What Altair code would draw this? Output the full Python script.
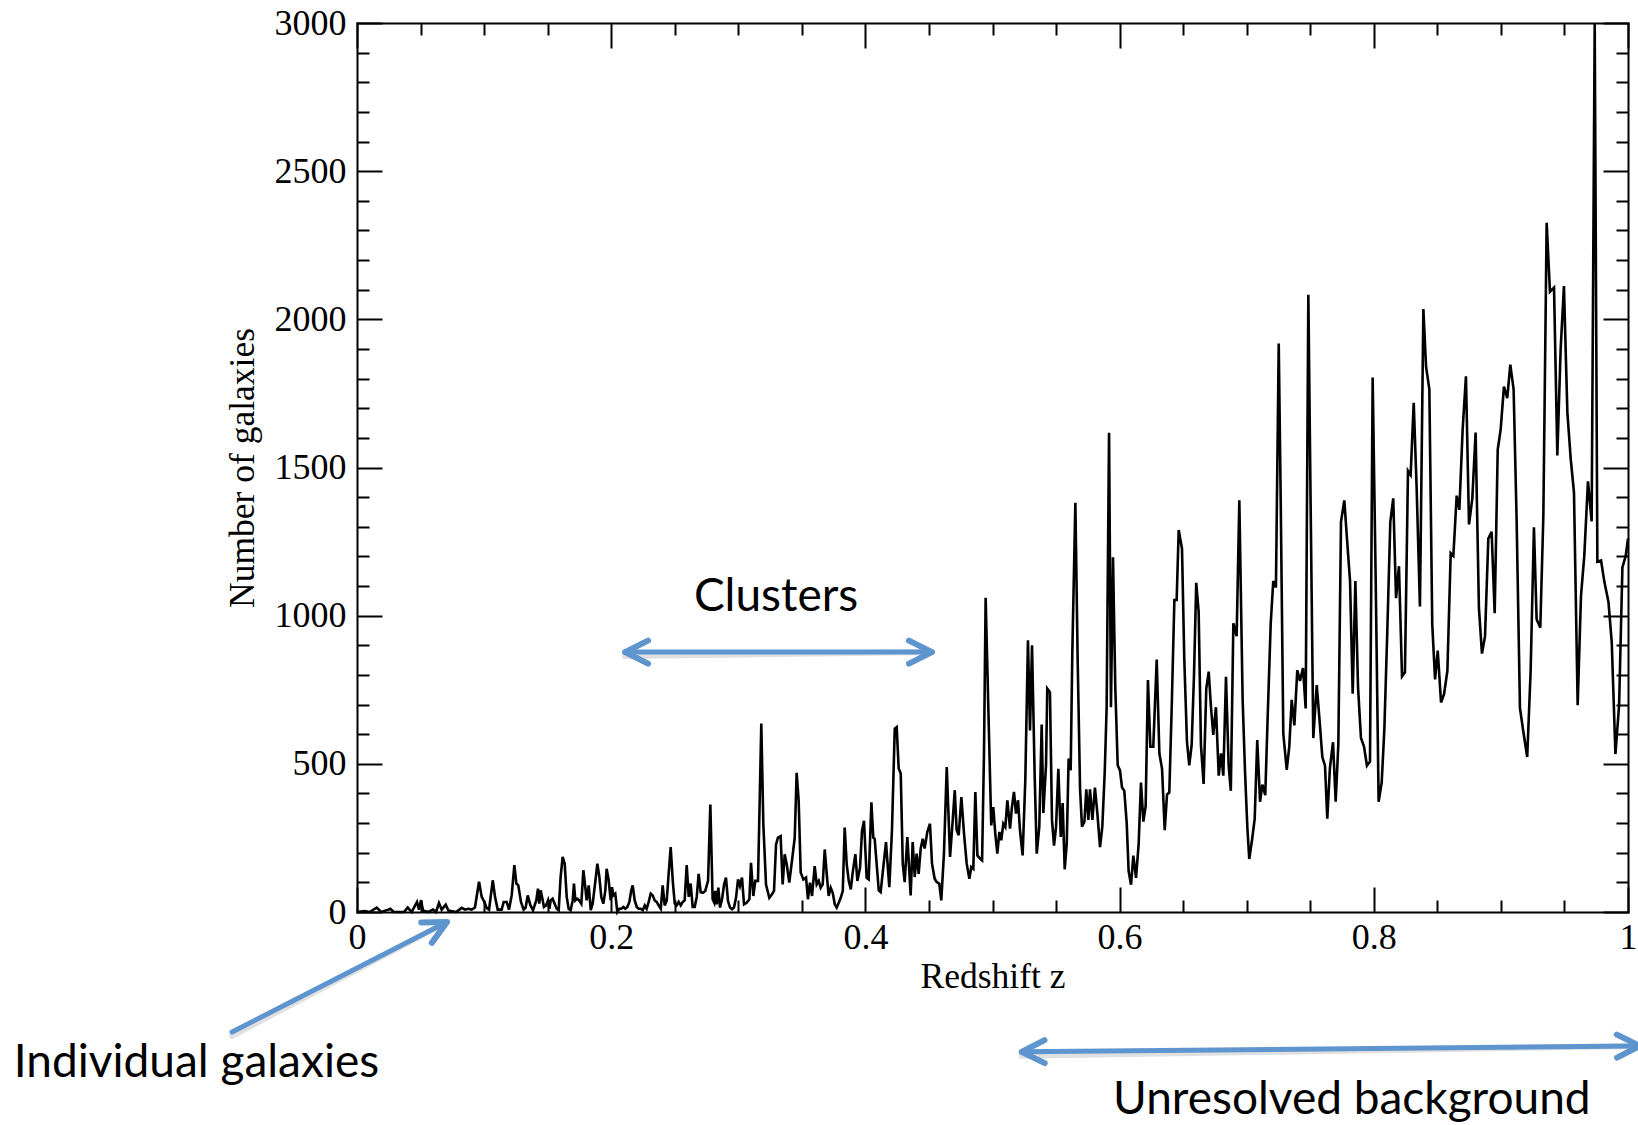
import altair as alt
import pandas as pd

# ---------------- data ----------------
redshift = [
    0.000, 0.006, 0.010, 0.0155, 0.019, 0.0247, 0.0262, 0.029, 0.037, 0.0399, 0.043, 0.0472, 0.0488, 0.0504,
    0.0519, 0.056, 0.0598, 0.0622, 0.0645, 0.0666, 0.0698, 0.0719, 0.078, 0.0824, 0.0850, 0.0876, 0.0902,
    0.0928, 0.0960, 0.0981, 0.1002, 0.1020, 0.1039, 0.1068, 0.1086, 0.1107, 0.1138, 0.1154, 0.1178, 0.1196,
    0.1217, 0.1238, 0.1254, 0.1269, 0.1290, 0.1311, 0.1327, 0.1343, 0.1364, 0.1385, 0.1411, 0.1424, 0.1434,
    0.1445, 0.1456, 0.1471, 0.1487, 0.1503, 0.1513, 0.1524, 0.1539, 0.1555, 0.1571, 0.1587, 0.1602, 0.1618,
    0.1634, 0.1650, 0.1665, 0.1681, 0.1697, 0.1707, 0.1718, 0.1733, 0.1749, 0.1765, 0.1781, 0.1796, 0.1807,
    0.1823, 0.1839, 0.1854, 0.1870, 0.1891, 0.1907, 0.1922, 0.1938, 0.1954, 0.1964, 0.1980, 0.1996, 0.2006,
    0.2017, 0.2032, 0.2048, 0.2064, 0.2080, 0.2096, 0.2111, 0.2127, 0.2143, 0.2158, 0.2169, 0.2185, 0.2201,
    0.2216, 0.2232, 0.2248, 0.2264, 0.2279, 0.2295, 0.2311, 0.2327, 0.2342, 0.2358, 0.2374, 0.2390, 0.2405,
    0.2421, 0.2437, 0.2452, 0.2468, 0.2484, 0.2500, 0.2515, 0.2531, 0.2547, 0.2563, 0.2578, 0.2594, 0.2610,
    0.2625, 0.2641, 0.2657, 0.2673, 0.2688, 0.2704, 0.2720, 0.2740, 0.2762, 0.2770, 0.2780, 0.2798, 0.2811,
    0.2819, 0.2830, 0.2843, 0.2856, 0.2872, 0.2888, 0.2903, 0.2919, 0.2935, 0.2951, 0.2966, 0.2982, 0.2998,
    0.3013, 0.3029, 0.3045, 0.3066, 0.3087, 0.3100, 0.3118, 0.3134, 0.3155, 0.3181, 0.3197, 0.3218, 0.3244,
    0.3265, 0.3281, 0.3297, 0.3312, 0.3333, 0.3349, 0.3365, 0.3381, 0.3401, 0.3422, 0.3444, 0.3459, 0.3475,
    0.3491, 0.3512, 0.3533, 0.3548, 0.3564, 0.3580, 0.3601, 0.3617, 0.3633, 0.3648, 0.3664, 0.3680, 0.3696,
    0.3711, 0.3727, 0.3743, 0.3759, 0.3774, 0.3790, 0.3806, 0.3822, 0.3837, 0.3853, 0.3869, 0.3885, 0.3900,
    0.3921, 0.3937, 0.3958, 0.3973, 0.3989, 0.4010, 0.4026, 0.4047, 0.4062, 0.4073, 0.4094, 0.4105, 0.4120,
    0.4141, 0.4162, 0.4188, 0.4209, 0.4231, 0.4246, 0.4262, 0.4278, 0.4294, 0.4309, 0.4330, 0.4356, 0.4372,
    0.4388, 0.4403, 0.4419, 0.4435, 0.4451, 0.4466, 0.4487, 0.4508, 0.4524, 0.4545, 0.4561, 0.4581, 0.4597,
    0.4618, 0.4640, 0.4666, 0.4687, 0.4703, 0.4718, 0.4734, 0.4755, 0.4776, 0.4797, 0.4818, 0.4833, 0.4849,
    0.4865, 0.4881, 0.4902, 0.4918, 0.4933, 0.4946, 0.4967, 0.4990, 0.5006, 0.5022, 0.5038, 0.5054, 0.5069,
    0.5085, 0.5101, 0.5117, 0.5138, 0.5153, 0.5169, 0.5185, 0.5201, 0.5216, 0.5237, 0.5258, 0.5279, 0.5295,
    0.5311, 0.5332, 0.5348, 0.5368, 0.5387, 0.5400, 0.5421, 0.5431, 0.5452, 0.5468, 0.5484, 0.5500, 0.5518,
    0.5537, 0.5552, 0.5568, 0.5584, 0.5599, 0.5615, 0.5628, 0.5652, 0.5670, 0.5689, 0.5704, 0.5723, 0.5738,
    0.5754, 0.5767, 0.5786, 0.5806, 0.5825, 0.5846, 0.5864, 0.5883, 0.5898, 0.5917, 0.5932, 0.5948, 0.5966,
    0.5985, 0.6003, 0.6019, 0.6037, 0.6056, 0.6071, 0.6090, 0.6108, 0.6129, 0.6150, 0.6168, 0.6187, 0.6205,
    0.6223, 0.6242, 0.6265, 0.6292, 0.6313, 0.6334, 0.6355, 0.6373, 0.6391, 0.6410, 0.6431, 0.6449, 0.6465,
    0.6491, 0.6509, 0.6530, 0.6548, 0.6567, 0.6585, 0.6603, 0.6622, 0.6640, 0.6661, 0.6682, 0.6701, 0.6719,
    0.6737, 0.6758, 0.6780, 0.6798, 0.6816, 0.6837, 0.6858, 0.6875, 0.6895, 0.6921, 0.6942, 0.6968, 0.6987,
    0.7005, 0.7020, 0.7042, 0.7063, 0.7083, 0.7105, 0.7123, 0.7146, 0.7165, 0.7189, 0.7209, 0.7230, 0.7252,
    0.7268, 0.7288, 0.7315, 0.7335, 0.7354, 0.7375, 0.7398, 0.7419, 0.7443, 0.7464, 0.7485, 0.7503, 0.7524,
    0.7551, 0.7571, 0.7595, 0.7616, 0.7634, 0.7655, 0.7679, 0.7700, 0.7721, 0.7742, 0.7768, 0.7789, 0.7813,
    0.7834, 0.7855, 0.7876, 0.7899, 0.7923, 0.7946, 0.7970, 0.7991, 0.8015, 0.8038, 0.8062, 0.8083, 0.8106,
    0.8130, 0.8153, 0.8175, 0.8198, 0.8222, 0.8245, 0.8269, 0.8290, 0.8314, 0.8337, 0.8363, 0.8390, 0.8411,
    0.8437, 0.8460, 0.8482, 0.8503, 0.8529, 0.8553, 0.8579, 0.8605, 0.8626, 0.8652, 0.8673, 0.8699, 0.8725,
    0.8749, 0.8775, 0.8801, 0.8827, 0.8851, 0.8875, 0.8901, 0.8927, 0.8951, 0.8975, 0.8998, 0.9024, 0.9050,
    0.9074, 0.9100, 0.9124, 0.9150, 0.9176, 0.9207, 0.9234, 0.9260, 0.9281, 0.9310, 0.9334, 0.9360, 0.9386,
    0.9418, 0.9444, 0.9470, 0.9496, 0.9523, 0.9549, 0.9575, 0.9604, 0.9630, 0.9656, 0.9685, 0.9714, 0.9738,
    0.9759, 0.9788, 0.9814, 0.9846, 0.9872, 0.9901, 0.9930, 0.9956, 0.9982, 1.0000,
]
galaxies = [
    0, 3, 0, 15, 0, 8, 11, 0, 0, 15, 0, 34, 8, 40,
    5, 0, 8, 0, 30, 8, 25, 5, 0, 14, 8, 11, 8,
    15, 102, 51, 34, 14, 8, 107, 51, 8, 8, 34, 34, 8,
    56, 158, 96, 90, 34, 8, 15, 56, 23, 6, 40, 79, 28,
    73, 51, 17, 22, 39, 11, 39, 45, 28, 11, 6, 118, 186,
    163, 51, 11, 6, 39, 96, 39, 45, 39, 28, 141, 84, 39,
    90, 6, 28, 84, 163, 118, 51, 28, 73, 146, 107, 39, 84,
    56, 62, 0, 11, 11, 17, 11, 17, 34, 73, 90, 39, 17,
    11, 11, 6, 22, 11, 34, 62, 56, 39, 34, 22, 11, 90,
    22, 39, 129, 219, 107, 28, 22, 34, 22, 34, 39, 158, 51,
    96, 17, 17, 51, 129, 67, 65, 71, 105, 220, 363, 43, 31,
    71, 26, 82, 15, 43, 93, 116, 37, 15, 9, 15, 48, 110,
    88, 116, 26, 31, 43, 166, 54, 105, 105, 636, 296, 93, 48,
    60, 71, 228, 251, 256, 93, 195, 161, 99, 172, 251, 470, 375,
    133, 110, 116, 43, 99, 54, 155, 93, 105, 82, 93, 211, 127,
    54, 82, 65, 26, 15, 31, 48, 71, 285, 161, 105, 76, 133,
    195, 105, 150, 273, 308, 115, 110, 370, 251, 247, 133, 73, 67,
    152, 236, 84, 276, 619, 624, 484, 467, 163, 101, 253, 56, 236,
    118, 197, 129, 214, 247, 214, 270, 298, 163, 112, 101, 96, 39,
    197, 489, 186, 309, 411, 276, 259, 388, 264, 163, 112, 152, 146,
    405, 191, 180, 174, 534, 1060, 692, 292, 354, 264, 197, 270, 242,
    298, 287, 377, 281, 354, 405, 332, 377, 276, 191, 444, 917, 613,
    900, 456, 197, 287, 633, 334, 495, 754, 742, 311, 224, 288, 483,
    253, 368, 144, 230, 518, 478, 875, 1381, 852, 414, 288, 305, 414,
    311, 414, 311, 420, 334, 219, 288, 472, 691, 1617, 691, 1197, 760,
    495, 478, 420, 409, 299, 138, 92, 190, 115, 230, 437, 305, 357,
    783, 558, 558, 852, 535, 483, 276, 397, 403, 691, 1053, 1053, 1289,
    1226, 852, 575, 495, 564, 794, 1111, 1013, 564, 432, 754, 811, 691,
    598, 691, 460, 535, 460, 794, 495, 409, 974, 931, 1389, 716, 472,
    286, 179, 243, 315, 580, 372, 430, 394, 659, 974, 1117, 1095, 1918,
    1374, 601, 480, 558, 716, 630, 816, 780, 823, 687, 2083, 1374, 587,
    766, 659, 523, 494, 315, 487, 573, 372, 566, 1317, 1389, 1260, 1117,
    737, 1117, 759, 587, 558, 494, 508, 1804, 1117, 372, 437, 616, 945,
    1317, 1396, 1059, 1167, 795, 809, 1489, 1475, 1718, 1432, 1031, 2035, 1841,
    1764, 969, 785, 882, 707, 736, 814, 1211, 1202, 1405, 1357, 1628, 1808,
    1308, 1395, 1618, 1027, 872, 930, 1260, 1283, 1008, 1560, 1628, 1773, 1734,
    1847, 1764, 1318, 688, 610, 523, 814, 1298, 988, 959, 1337, 2326, 2093,
    2107, 1541, 1899, 2112, 1686, 1531, 1415, 698, 1066, 1202, 1453, 1318, 3000,
    1182, 1186, 1114, 1047, 911, 533, 698, 1163, 1202, 1260,
]

x_major = [0, 0.2, 0.4, 0.6, 0.8, 1.0]
x_minor = [0.05, 0.1, 0.15, 0.25, 0.3, 0.35, 0.45, 0.5, 0.55, 0.65, 0.7, 0.75, 0.85, 0.9, 0.95]
y_major = [0, 500, 1000, 1500, 2000, 2500, 3000]
y_minor = [v for v in range(100, 3000, 100) if v % 500 != 0]

# annotations (data coordinates)
note_text = ["Clusters", "Individual galaxies", "Unresolved background"]
note_z = [0.3297, -0.1263, 0.7827]
note_n = [1064, -511, -634]

arrow_z1 = [0.2109, -0.0983, 0.5229]
arrow_n1 = [877, -405, -472]
arrow_z2 = [0.4524, 0.0708, 1.0094]
arrow_n2 = [877, -34, -452]

head_z = [0.4524, 0.2109, 0.0708, 0.5229, 1.0094]
head_n = [877, 877, -34, -472, -452]
head_angle = [0, 180, 332.7, 179.4, 359.4]

# ---------------- chart ----------------
W, H = 1271, 889
SERIF = "Liberation Serif"
BLUE = "#5F95CF"
xs = alt.Scale(domain=[0, 1], nice=False, zero=False)
ys = alt.Scale(domain=[0, 3000], nice=False, zero=False)

df = pd.DataFrame({"z": redshift, "n": galaxies})
dom = pd.DataFrame({"z": [0, 1], "n": [0, 3000]})
notes = pd.DataFrame({"text": note_text, "z": note_z, "n": note_n})
arrows = pd.DataFrame({"z1": arrow_z1, "n1": arrow_n1, "z2": arrow_z2, "n2": arrow_n2})
heads = pd.DataFrame({"z": head_z, "n": head_n, "angle": head_angle})


def tick_axis(orient, values, size, domain=False):
    return alt.Axis(
        orient=orient, values=values, labels=False, domain=domain, domainColor="black",
        domainWidth=2, domainCap="square", grid=False, ticks=True,
        tickSize=alt.ExprRef(expr=str(-size)), tickWidth=2, tickColor="black", title=None,
    )


x_lab = alt.Axis(
    orient="bottom", values=x_major, format="~g", ticks=False, domain=True, domainColor="black",
    domainWidth=2, domainCap="square", grid=False, labelFlush=False, labelOverlap=False,
    labelPadding=8, labelFont=SERIF, labelFontSize=36, labelColor="black",
    title="Redshift z", titleFont=SERIF, titleFontSize=35.5, titleFontWeight="normal",
    titleColor="black", titleX=W / 2, titleY=64, titleBaseline="middle", titleAlign="center",
)
y_lab = alt.Axis(
    orient="left", values=y_major, format="d", ticks=False, domain=True, domainColor="black",
    domainWidth=2, domainCap="square", grid=False, labelFlush=False, labelOverlap=False,
    labelPadding=11, labelFont=SERIF, labelFontSize=36, labelColor="black",
    title="Number of galaxies", titleFont=SERIF, titleFontSize=35.5, titleFontWeight="normal",
    titleColor="black", titleX=-115, titleY=H / 2, titleAngle=270, titleBaseline="middle",
    titleAlign="center",
)

line = alt.Chart(df).mark_line(color="black", strokeWidth=2.6).encode(
    x=alt.X("z:Q", scale=xs, axis=x_lab),
    y=alt.Y("n:Q", scale=ys, axis=y_lab),
)


def axis_layer(xa, ya):
    return alt.Chart(dom).mark_point(opacity=0).encode(
        x=alt.X("z:Q", scale=xs, axis=xa),
        y=alt.Y("n:Q", scale=ys, axis=ya),
    )


ax2 = axis_layer(tick_axis("bottom", x_major, 25), tick_axis("left", y_major, 25))
ax3 = axis_layer(tick_axis("bottom", x_minor, 12), tick_axis("left", y_minor, 12))
ax4 = axis_layer(tick_axis("top", x_major, 25, True), tick_axis("right", y_major, 25, True))
ax5 = axis_layer(tick_axis("top", x_minor, 12), tick_axis("right", y_minor, 12))

shadow = alt.Chart(arrows).mark_rule(
    color="black", opacity=0.12, strokeWidth=6, strokeCap="round", yOffset=4
).encode(
    x=alt.X("z1:Q", scale=xs, axis=None), y=alt.Y("n1:Q", scale=ys, axis=None),
    x2="z2:Q", y2="n2:Q",
)
shafts = alt.Chart(arrows).mark_rule(color=BLUE, strokeWidth=5, strokeCap="round").encode(
    x=alt.X("z1:Q", scale=xs, axis=None), y=alt.Y("n1:Q", scale=ys, axis=None),
    x2="z2:Q", y2="n2:Q",
)
chevron = "M -2 -1 L 0 0 L -2 1"
head_marks = alt.Chart(heads).mark_point(
    shape=chevron, filled=False, size=530, stroke=BLUE, strokeWidth=6,
    strokeCap="round", strokeJoin="round", opacity=1,
).encode(
    x=alt.X("z:Q", scale=xs, axis=None), y=alt.Y("n:Q", scale=ys, axis=None),
    angle=alt.Angle("angle:Q", scale=None),
)
texts = alt.Chart(notes).mark_text(
    font="Lato", fontSize=46, color="black", align="center", baseline="middle"
).encode(
    x=alt.X("z:Q", scale=xs, axis=None), y=alt.Y("n:Q", scale=ys, axis=None), text="text:N",
)

chart = (
    alt.layer(line, ax2, ax3, ax4, ax5, shadow, shafts, head_marks, texts)
    .resolve_axis(x="independent", y="independent")
    .properties(
        width=W, height=H, autosize="none",
        padding={"left": 357, "top": 23, "right": 10, "bottom": 213},
        background="white",
    )
    .configure_view(strokeWidth=0)
)

chart.save("out.html", embed_options={"renderer": "svg", "actions": False})
